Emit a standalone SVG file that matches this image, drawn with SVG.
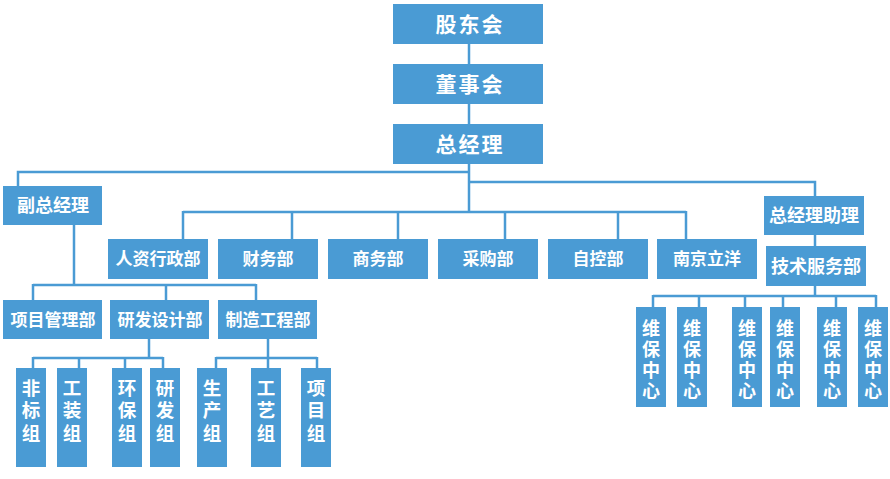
<svg xmlns="http://www.w3.org/2000/svg" width="890" height="479" viewBox="0 0 890 479">
<style>
.b{fill:#4A9BD4}
.t{fill:#fff;font-family:"Noto Sans CJK SC","Noto Sans",sans-serif;font-weight:bold;text-anchor:middle}
.t1{font-size:21px;letter-spacing:2px}
.t2{font-size:17px}
.t3{font-size:18px}
.tv{font-size:18.5px;writing-mode:vertical-rl;letter-spacing:4px}
.tv2{font-size:18px;writing-mode:vertical-rl;letter-spacing:3px}
#conn line,#conn polyline{stroke:#4A9BD4;stroke-width:2.5;fill:none}
</style>
<rect width="890" height="479" fill="#fff"/>
<g id="conn">
<line x1="469" y1="44" x2="469" y2="64"/>
<line x1="469" y1="104" x2="469" y2="124"/>
<line x1="469" y1="164" x2="469" y2="212"/>
<polyline points="469,172 18,172 18,186"/>
<polyline points="469,182 815,182 815,196"/>
<line x1="183" y1="212" x2="686" y2="212"/>
<line x1="183" y1="211" x2="183" y2="239"/>
<line x1="292" y1="212" x2="292" y2="239"/>
<line x1="398" y1="212" x2="398" y2="239"/>
<line x1="505" y1="212" x2="505" y2="239"/>
<line x1="618" y1="212" x2="618" y2="239"/>
<line x1="686" y1="211" x2="686" y2="239"/>
<line x1="74" y1="225" x2="74" y2="285"/>
<line x1="33" y1="285" x2="256" y2="285"/>
<line x1="33" y1="284" x2="33" y2="300"/>
<line x1="166" y1="285" x2="166" y2="300"/>
<line x1="256" y1="284" x2="256" y2="300"/>
<line x1="149" y1="339" x2="149" y2="358"/>
<line x1="33" y1="358" x2="163" y2="358"/>
<line x1="33" y1="357" x2="33" y2="368"/>
<line x1="79" y1="358" x2="79" y2="368"/>
<line x1="125" y1="358" x2="125" y2="368"/>
<line x1="163" y1="357" x2="163" y2="368"/>
<line x1="268" y1="339" x2="268" y2="358"/>
<line x1="216" y1="358" x2="317" y2="358"/>
<line x1="216" y1="357" x2="216" y2="368"/>
<line x1="268" y1="358" x2="268" y2="368"/>
<line x1="317" y1="357" x2="317" y2="368"/>
<line x1="815" y1="235" x2="815" y2="246"/>
<line x1="815" y1="286" x2="815" y2="296"/>
<line x1="653" y1="296" x2="876" y2="296"/>
<line x1="653" y1="295" x2="653" y2="307"/>
<line x1="699" y1="296" x2="699" y2="307"/>
<line x1="745" y1="296" x2="745" y2="307"/>
<line x1="783" y1="296" x2="783" y2="307"/>
<line x1="836" y1="296" x2="836" y2="307"/>
<line x1="876" y1="295" x2="876" y2="307"/>
</g>
<g id="gudonghui"><rect class="b" x="393" y="4" width="150" height="40"/><text class="t t1" x="470" y="32">股东会</text></g>
<g id="dongshihui"><rect class="b" x="393" y="64" width="150" height="40"/><text class="t t1" x="470" y="92">董事会</text></g>
<g id="zongjingli"><rect class="b" x="393" y="124" width="150" height="40"/><text class="t t1" x="470" y="152">总经理</text></g>
<g id="fuzongjingli"><rect class="b" x="3" y="186" width="99" height="39"/><text class="t t3" x="53" y="212">副总经理</text></g>
<g id="renzi"><rect class="b" x="108" y="239" width="100" height="40"/><text class="t t2" x="158" y="265">人资行政部</text></g>
<g id="caiwu"><rect class="b" x="218" y="239" width="100" height="40"/><text class="t t2" x="268" y="265">财务部</text></g>
<g id="shangwu"><rect class="b" x="328" y="239" width="100" height="40"/><text class="t t2" x="378" y="265">商务部</text></g>
<g id="caigou"><rect class="b" x="438" y="239" width="100" height="40"/><text class="t t2" x="488" y="265">采购部</text></g>
<g id="zikong"><rect class="b" x="548" y="239" width="100" height="40"/><text class="t t2" x="598" y="265">自控部</text></g>
<g id="nanjing"><rect class="b" x="657" y="239" width="100" height="40"/><text class="t t2" x="707" y="265">南京立洋</text></g>
<g id="zhuli"><rect class="b" x="764" y="196" width="100" height="39"/><text class="t t3" x="814" y="222">总经理助理</text></g>
<g id="jishu"><rect class="b" x="766" y="246" width="100" height="40"/><text class="t t3" x="816" y="273">技术服务部</text></g>
<g id="xiangmu"><rect class="b" x="3" y="300" width="99" height="39"/><text class="t t2" x="53" y="326">项目管理部</text></g>
<g id="yanfa"><rect class="b" x="110" y="300" width="99" height="39"/><text class="t t2" x="160" y="326">研发设计部</text></g>
<g id="zhizao"><rect class="b" x="218" y="300" width="99" height="39"/><text class="t t2" x="268" y="326">制造工程部</text></g>
<g id="feibiao"><rect class="b" x="16" y="368" width="30" height="99"/><text class="t tv" x="31" y="412">非标组</text></g>
<g id="gongzhuang"><rect class="b" x="57" y="368" width="30" height="99"/><text class="t tv" x="72" y="412">工装组</text></g>
<g id="huanbao"><rect class="b" x="112" y="368" width="30" height="99"/><text class="t tv" x="127" y="412">环保组</text></g>
<g id="yanfazu"><rect class="b" x="150" y="368" width="30" height="99"/><text class="t tv" x="165" y="412">研发组</text></g>
<g id="shengchan"><rect class="b" x="197" y="368" width="30" height="99"/><text class="t tv" x="212" y="412">生产组</text></g>
<g id="gongyi"><rect class="b" x="251" y="368" width="30" height="99"/><text class="t tv" x="266" y="412">工艺组</text></g>
<g id="xiangmuzu"><rect class="b" x="301" y="368" width="30" height="99"/><text class="t tv" x="316" y="412">项目组</text></g>
<g id="weibao1"><rect class="b" x="636" y="307" width="30" height="100"/><text class="t tv2" x="651" y="361">维保中心</text></g>
<g id="weibao2"><rect class="b" x="677" y="307" width="30" height="100"/><text class="t tv2" x="692" y="361">维保中心</text></g>
<g id="weibao3"><rect class="b" x="732" y="307" width="30" height="100"/><text class="t tv2" x="747" y="361">维保中心</text></g>
<g id="weibao4"><rect class="b" x="770" y="307" width="30" height="100"/><text class="t tv2" x="785" y="361">维保中心</text></g>
<g id="weibao5"><rect class="b" x="817" y="307" width="30" height="100"/><text class="t tv2" x="832" y="361">维保中心</text></g>
<g id="weibao6"><rect class="b" x="858" y="307" width="30" height="100"/><text class="t tv2" x="873" y="361">维保中心</text></g>
</svg>
